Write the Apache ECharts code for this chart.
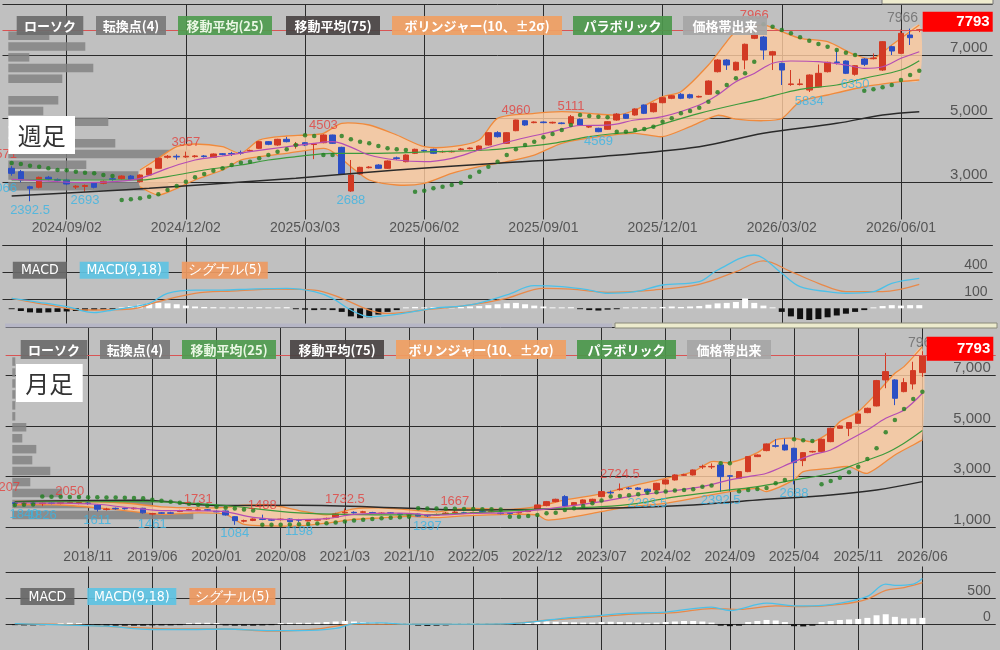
<!DOCTYPE html>
<html>
<head>
<meta charset="utf-8">
<script src="https://cdn.jsdelivr.net/npm/echarts@6/dist/echarts.min.js"></script>
<style>
html,body{margin:0;padding:0;background:#c0c0c0;}
#main{width:1000px;height:650px;}
</style>
</head>
<body>
<div id="main"></div>
<script>
// ---- 週足 (weekly, 2024/07/22 .. 2026/06/15) ----
var wkTickIdx = [6, 19, 32, 45, 58, 71, 84, 97];
var wkTickLabel = ['2024/09/02','2024/12/02','2025/03/03','2025/06/02','2025/09/01','2025/12/01','2026/03/02','2026/06/01'];

var wkOpen = [3431,3324,2850,2833,3150,3080,3063,2840,2860,2978, 2959,3100,3103,3188,3010,3220,3431,3780,3810,3790,
  3800,3820,3778,3890,3900,3930,3975,4061,4270,4165, 4345,4150,4237,4180,4237,4480,4092,2716,3251,3450,
  3535,3431,3760,3640,3904,3995,4030,3950,3950,4020, 4050,4007,4165,4553,4218,4616,4930,4870,4890,4860,
  4860,4848,4975,4730,4691,4660,4952,5132,5110,5425, 5214,5498,5636,5762,5750,5676,5762,6474,6842,6527,
  6842,7526,7567,7000,6738,6070,6070,5897,6000,6474, 6780,6811,6392,6874,6885,6527,7262,7053,7630,7780];
var wkClose = [3273,3063,2800,3147,3090,3050,2937,2870,2890,2833, 3022,3080,3188,3085,3220,3431,3746,3810,3790,3810,
  3820,3800,3882,3870,3880,3910,3995,4270,4187,4345, 4270,4175,4165,4200,4480,4218,3251,3220,3462,3470,
  3431,3661,3740,3850,4030,3980,3904,3960,3965,4040, 4070,4133,4553,4427,4553,4952,4795,4890,4870,4880,
  4840,5057,4795,4750,4584,4900,5140,5006,5300,5163, 5478,5655,5718,5636,5650,5696,6181,6842,6685,6770,
  7337,7630,7158,7104,6527,6090,6090,6370,6423,6770, 6760,6423,6663,6707,6905,7420,7126,7683,7545,7793];
var wkLow = [3200,2990,2392.5,2800,3050,3000,2900,2780,2693,2800, 2930,3040,3080,3060,2980,3200,3420,3740,3700,3760,
  3770,3770,3760,3840,3820,3860,3950,4040,4160,4140, 4250,4050,4130,3720,4220,4200,3230,2688,3230,3430,
  3410,3410,3700,3620,3880,3950,3880,3920,3930,4000, 4030,3990,4150,4400,4200,4600,4770,4850,4850,4840,
  4820,4830,4780,4700,4569,4640,4930,4990,5090,5140, 5190,5480,5610,5610,5630,5660,5740,6450,6530,6500,
  6550,7500,6850,6527,6055,6030,6040,5834,5980,6450, 6700,6400,6350,6650,6860,6500,7000,7030,7315,7720];
var wkHigh = [3500,3380,2880,3170,3190,3110,3100,2900,2920,3000, 3050,3130,3210,3220,3240,3450,3770,3850,3870,3957,
  3850,3850,3900,3910,3950,3990,4020,4290,4290,4360, 4420,4260,4260,4230,4503,4490,4110,3693,3480,3500,
  3560,3680,3800,3870,4050,4020,4050,3990,3990,4070, 4090,4150,4570,4600,4570,4960,4950,4910,4910,4900,
  4880,5111,5000,4780,4710,4920,5170,5150,5320,5440, 5500,5680,5740,5800,5780,5720,6200,6870,6870,6790,
  7360,7966,7600,7130,6760,6527,6250,6390,6700,6790, 7158,6830,6680,6900,7050,7440,7290,7800,7830,7820];

var wkMid = [[0,3085],[4,3030],[8,2978],[11,3010],[14,3116],[17,3431],[20,3692],[23,3818],[26,3954],[30,4111],[33,4218],[35,4269],[37,4100],[39,3850],[42,3692],[45,3640],[48,3746],[51,4008],[55,4323],[59,4584],[62,4780],[65,4790],[68,4952],[71,5057],[75,5425],[77,5740],[79,6159],[81,6420],[83,6739],[85,6811],[88,6789],[91,6685],[93,6581],[95,6631],[97,6896],[99,7104]];
var wkUpper = [[14,3377],[16,3746],[18,4112],[20,4197],[23,4112],[25,3904],[27,4322],[30,4449],[32,4480],[34,4534],[36,4849],[39,4795],[42,4480],[45,4112],[48,4112],[51,4322],[53,5006],[57,5163],[60,5214],[63,5163],[66,5110],[68,5268],[71,5686],[73,5844],[76,6685],[78,7420],[79,7735],[82,7945],[84,7735],[86,7526],[89,7420],[92,7000],[94,6895],[96,7315],[99,7945]];
var wkLower = [[14,2852],[16,2590],[18,2800],[20,3063],[23,3378],[25,3693],[27,3797],[30,3904],[34,4061],[35,3954],[37,3482],[39,3063],[42,2905],[45,2960],[48,3274],[51,3482],[54,3640],[57,3850],[60,4218],[64,4427],[68,4533],[71,4427],[74,4742],[77,5100],[79,4980],[82,4930],[84,5000],[86,5530],[89,5740],[93,6000],[97,6160],[99,6212]];
var wkMa25 = [[0,3070],[6,3063],[14,3063],[18,3220],[21,3378],[25,3535],[28,3693],[31,3797],[35,3904],[39,3904],[46,3954],[52,4008],[55,4092],[59,4218],[63,4427],[66,4533],[68,4585],[75,5163],[82,5636],[86,5920],[90,6055],[93,6266],[97,6527],[99,6820]];
var wkMa75 = [[0,2560],[10,2720],[15,2800],[20,2900],[31,3120],[42,3378],[53,3589],[64,3797],[75,4112],[82,4533],[90,4848],[95,5110],[99,5214]];
var wkSar = [3600,3567,3514,3482,3431,3378,3370,3325,3293,3274, 3220,3189,2432,2455,2486,2537,2612,2748,2874,3009,
  3147,3252,3356,3431,3535,3608,3640,3746,3850,3954, 4030,4165,4470,4449,3850,3850,4449,4345,4270,4218,
  4133,4061,4030,4008,2695,2726,2800,2852,2905,2978, 3168,3325,3482,3640,3850,4030,4165,4270,4408,4512,
  4637,4795,5110,5078,5057,5040,4585,4585,4637,4670, 4742,4900,5006,5163,5236,5340,5530,5825,6055,6266,
  6423,6789,7966,7892,7788,7683,7557,7451,7347,7262, 7158,7073,7000,5876,5920,5983,6055,6212,6370,6505];
var wkPeakIdx = [-1, 19, 34, 55, 61, 81];
var wkPeakVal = ['3571','3957','4503','4960','5111','7966'];
var wkTroughIdx = [-1, 2, 8, 37, 64, 87, 92];
var wkTroughVal = ['3066','2392.5','2693','2688','4569','5834','6350'];
var wkProfile = [41,77,21,85,54,0,50,35,100,60,107,182,78,130,160];

var wkMacd = [[0,111],[3,67],[6,18],[9,-49],[11,-19],[15,56],[17,167],[20,203],[23,203],[26,214],[30,222],[33,185],[35,111],[37,-19],[39,-93],[42,-67],[46,0],[50,37],[54,148],[57,251],[60,240],[63,203],[65,167],[68,185],[71,259],[75,296],[77,426],[81,592],[82,556],[84,389],[86,240],[89,185],[91,167],[94,185],[96,278],[99,333]];
var wkSignal = [[0,111],[4,37],[8,-19],[13,-8],[16,74],[20,167],[24,192],[29,214],[33,203],[36,111],[39,-19],[41,-56],[45,-19],[50,37],[54,111],[58,222],[61,214],[65,178],[70,203],[75,266],[79,407],[82,526],[85,407],[88,278],[91,185],[95,185],[99,266]];
var wkHist = [-10,-30,-45,-50,-45,-40,-35,-30,-25,-20, -15,-10,10,25,40,55,60,55,45,30,
  20,15,12,10,10,12,10,12,10,10, 12,-10,-15,-20,-15,-20,-40,-90,-110,-100,
  -70,-40,-20,10,15,10,12,15,10,15, 20,25,35,45,55,60,45,30,20,10,
  10,12,-10,-20,-25,-15,-10,10,10,12, 10,15,20,15,20,25,40,55,60,70,
  110,60,30,10,-40,-90,-120,-130,-120,-100, -80,-60,-40,-20,10,25,35,30,35,35];

// ---- 月足 (monthly, 2018/03 .. 2026/06) ----
var moTickIdx = [8,15,22,29,36,43,50,57,64,71,78,85,92,99];
var moTickLabel = ['2018/11','2019/06','2020/01','2020/08','2021/03','2021/10','2022/05','2022/12','2023/07','2024/02','2024/09','2025/04','2025/11','2026/06'];

var moOpen = [1960,1925,1955,1925,1950,1935,1960,1950,1950,1872, 1690,1740,1740,1720,1741,1510,1560,1560,1610,1670,
  1660,1680,1620,1634,1408,1230,1260,1320,1290,1290, 1317,1290,1240,1270,1320,1384,1560,1580,1580,1570,
  1530,1560,1520,1470,1510,1460,1470,1530,1570,1560, 1550,1620,1600,1550,1550,1560,1608,1700,1846,2004,
  2203,1872,1938,2004,2203,2370,2480,2540,2545,2494, 2467,2705,2864,3050,3062,3380,3380,3458,3030,2930,
  3194,3789,4027,4220,4251,4119,3630,3975,3987,4383, 4912,4912,5110,5533,5798,6829,6829,6366,6670,7120];
var moClose = [1930,1950,1930,1950,1935,1960,1980,1965,1930,1702, 1710,1720,1720,1745,1560,1530,1545,1545,1650,1690,
  1680,1660,1600,1476,1250,1250,1317,1300,1270,1310, 1210,1270,1280,1290,1340,1515,1580,1560,1600,1550,
  1550,1540,1500,1490,1430,1440,1490,1550,1590,1540, 1570,1600,1620,1530,1530,1580,1674,1872,2004,2097,
  1833,1965,2071,2097,2401,2350,2500,2520,2494,2401, 2731,2864,3062,3070,3260,3400,3400,2996,3010,3194,
  3789,3854,4291,4200,4053,3551,3947,3995,4476,4912, 5005,5137,5480,5705,6802,7159,6102,6723,7199,7793];
var moLow = [1850,1840,1880,1826,1900,1900,1930,1900,1880,1611, 1650,1680,1690,1690,1530,1461,1520,1520,1590,1640,
  1630,1630,1580,1450,1084,1180,1230,1270,1240,1260, 1205,1198,1220,1250,1290,1370,1520,1530,1550,1520,
  1500,1510,1470,1440,1410,1397,1440,1500,1540,1510, 1520,1570,1580,1500,1500,1530,1590,1680,1820,1980,
  1800,1850,1910,1980,2180,2290,2440,2480,2460,2293.5, 2440,2680,2840,3020,3040,3300,3300,2392.5,2420,2900,
  3170,3770,4000,4150,4030,2688,3410,3950,3970,4360, 4890,4600,5090,5510,5780,6500,5830,6340,6450,6950];
var moHigh = [2000,1990,1990,1980,1990,2000,2050,2000,1990,1900, 1760,1770,1770,1780,1760,1560,1590,1600,1680,1720,
  1731,1710,1650,1660,1430,1290,1340,1488,1320,1340, 1340,1320,1300,1320,1370,1560,1732.5,1620,1640,1600,
  1580,1590,1550,1520,1530,1490,1530,1590,1667,1600, 1600,1650,1650,1580,1580,1610,1700,1890,2030,2120,
  2260,1990,2090,2120,2420,2440,2724.5,2580,2580,2520, 2750,2890,3090,3110,3280,3470,3520,3500,3060,3210,
  3810,3880,4310,4480,4500,4140,3970,4020,4500,4940, 5030,5160,5500,5730,6830,7900,6860,6900,7550,7966];

var moMid = [[0,1950],[5,1945],[9,1900],[12,1780],[16,1650],[20,1640],[23,1600],[26,1380],[30,1290],[34,1330],[37,1500],[42,1550],[46,1470],[50,1540],[54,1570],[57,1674],[60,1806],[64,2004],[67,2203],[71,2401],[75,2599],[78,2864],[80,2996],[82,3128],[85,3590],[87,3855],[89,4053],[91,4450],[93,4846],[95,5309],[97,5639],[99,6300]];
var moUpper = [[0,2010],[5,2020],[9,2000],[12,1950],[16,1800],[20,1760],[23,1780],[25,1860],[28,1870],[31,1650],[34,1480],[37,1720],[40,1760],[43,1680],[46,1600],[49,1740],[54,1700],[57,1806],[60,2071],[64,2308],[67,2599],[71,2930],[74,3194],[76,3590],[78,3551],[81,3947],[83,4450],[85,4516],[87,4383],[89,4780],[90,5176],[92,5573],[94,6300],[96,7093],[97,7357],[99,8150]];
var moLower = [[0,1880],[5,1870],[9,1760],[12,1650],[16,1500],[20,1560],[23,1500],[25,1100],[28,1040],[31,1040],[34,1150],[37,1300],[40,1360],[43,1420],[46,1370],[49,1440],[54,1500],[57,1476],[58,1278],[60,1344],[64,1608],[67,1806],[71,1938],[75,2203],[78,2401],[81,2533],[82,2400],[85,2864],[86,3194],[89,3326],[91,3392],[93,3128],[96,3855],[98,4251],[99,4450]];
var moMa25 = [[0,1990],[8,2000],[14,2003],[22,1880],[31,1560],[43,1480],[49,1540],[57,1700],[64,1806],[68,1938],[71,2136],[75,2335],[78,2467],[81,2599],[85,2864],[89,3128],[92,3525],[95,3921],[97,4318],[99,4820]];
var moMa75 = [[0,2003],[14,2060],[22,1850],[31,1860],[43,1741],[49,1674],[64,1740],[74,1872],[81,2071],[89,2269],[94,2467],[99,2797]];
var moSar = [1870,1880,1890,2207,2200,2195,2190,2185,2180,2175, 2170,2165,2160,2150,2140,2080,2040,2000,1960,1920,
  1880,1840,1800,1760,1730,1690,1650,1084,1085,1090, 1100,1110,1120,1135,1150,1180,1220,1260,1290,1320,
  1345,1365,1385,1400,1740,1735,1730,1725,1720,1715, 1710,1705,1700,1695,1408,1408,1434,1474,1540,1567,
  1674,1740,1832,1938,2050,2203,2230,2260,2296,2361, 2380,2401,2441,2467,2494,2599,2640,3525,3525,2420,
  2467,2500,2546,2731,2864,4477,4440,4410,2693,2824, 2955,3168,3391,3696,4120,4755,5243,5679,6075,6365];
var moPeakIdx = [-1, 6, 20, 27, 36, 48, 66];
var moPeakVal = ['2207','2050','1731','1488','1732.5','1667','2724.5'];
var moTroughIdx = [1, 3, 9, 15, 24, 31, 45, 69, 77, 85];
var moTroughVal = ['1840','1826','1611','1461','1084','1198','1397','2293.5','2392.5','2688'];
var moProfile = [3,3,3,3,3,3,14,10,24,20,38,18,50,140,181];

var moMacd = [[0,11],[5,-16],[10,-41],[15,-104],[19,-104],[23,-95],[28,-126],[31,-126],[35,-84],[37,11],[40,22],[43,0],[47,0],[54,11],[57,54],[60,117],[64,169],[67,211],[71,232],[76,327],[78,263],[82,405],[85,353],[87,353],[90,405],[93,536],[95,773],[96,747],[98,773],[99,879]];
var moSignal = [[0,11],[5,-5],[11,-52],[18,-95],[23,-95],[28,-136],[33,-95],[37,0],[43,0],[54,11],[58,74],[64,148],[68,200],[72,221],[76,300],[79,284],[83,353],[86,337],[90,379],[93,484],[95,652],[97,705],[99,800]];
var moHist = [-20,-25,-25,-20,-15,20,25,20,-10,-25, -30,-30,-30,-30,-30,-25,-25,-25,-20,20,
  25,25,20,-25,-30,-30,-30,-25,-20,20, 25,25,25,30,40,50,60,50,40,30,
  25,25,20,15,-30,-35,-30,-25,20,20, 20,20,20,20,20,20,25,40,50,45,
  40,35,30,30,40,45,40,35,30,25, 30,40,50,60,60,50,30,-30,-40,-30,
  40,60,80,70,40,-40,-45,-30,40,60, 80,90,100,120,170,190,140,110,110,120];

var lastPrice = 7793;
var rangeHigh = '7966';

// ---- styling ----
var GRID = '#2b2b2b', RED = '#d23a24', BLUE = '#2c4fc4';
var NCAT = 109;
var cats = [];
for (var c = 0; c < NCAT; c++) cats.push(String(c));

function xAxisCfg(gi, tickIdx, labels, showLabels, margin) {
  var tickK = tickIdx.map(function (i) { return i + 1; });
  var isTick = function (idx) { return tickK.indexOf(idx) >= 0; };
  return {
    type: 'category', gridIndex: gi, data: cats, boundaryGap: false,
    axisLine: {show: false}, axisTick: {show: false},
    axisLabel: {
      show: showLabels, inside: true, margin: margin, interval: isTick,
      formatter: function (v, idx) { var p = tickK.indexOf(idx); return p >= 0 ? labels[p] : ''; },
      color: '#555', fontSize: 14, fontFamily: 'Liberation Sans, Arial, sans-serif',
      backgroundColor: '#c0c0c0', padding: [2, 3]
    },
    splitLine: {show: true, interval: isTick, lineStyle: {color: GRID, width: 1}}
  };
}

function yAxisCfg(gi, min, max, interval, shown, showMin, fs) {
  return {
    type: 'value', gridIndex: gi, position: 'right', min: min, max: max, interval: interval,
    axisLine: {show: false}, axisTick: {show: false},
    axisLabel: {
      inside: true, margin: 5, verticalAlign: 'bottom', color: '#555', fontSize: fs,
      fontFamily: 'Liberation Sans, Arial, sans-serif',
      formatter: function (v) { return shown.indexOf(v) >= 0 ? v.toLocaleString('en-US') : ''; }
    },
    splitLine: {show: true, showMinLine: showMin, lineStyle: {color: GRID, width: 1}}
  };
}

function pairs(list) { return list.map(function (p) { return [p[0] + 1, p[1]]; }); }
function perBar(arr) { return arr.map(function (v, i) { return [i + 1, v]; }); }
function ohlc(o, cl, l, h) { return o.map(function (v, i) { return [i + 1, v, cl[i], l[i], h[i]]; }); }

function candleSeries(xi, yi, o, cl, l, h) {
  return {
    type: 'candlestick', xAxisIndex: xi, yAxisIndex: yi, z: 4, barWidth: 6,
    encode: {x: 0, y: [1, 2, 3, 4]}, data: ohlc(o, cl, l, h),
    itemStyle: {color: RED, color0: BLUE, borderColor: RED, borderColor0: BLUE, borderWidth: 1},
    markLine: {symbol: 'none', silent: true, label: {show: false},
      lineStyle: {color: '#d85454', width: 1, type: 'solid'}, data: [{yAxis: lastPrice}]}
  };
}

function lineSeries(xi, yi, list, color, width, z) {
  return {type: 'line', xAxisIndex: xi, yAxisIndex: yi, data: pairs(list), showSymbol: false,
    smooth: 0.35, z: z || 5, lineStyle: {color: color, width: width}, silent: true};
}

function bandSeries(xi, yi, up, lo) {
  return {
    type: 'custom', xAxisIndex: xi, yAxisIndex: yi, z: 2, silent: true, data: [[1, 5000]],
    renderItem: function (params, api) {
      var top = up.map(function (p) { return api.coord([p[0] + 1, p[1]]); });
      var bot = lo.map(function (p) { return api.coord([p[0] + 1, p[1]]); }).reverse();
      return {type: 'group', children: [
        {type: 'polygon', shape: {points: top.concat(bot), smooth: 0.25}, style: {fill: 'rgba(252,202,160,0.82)'}},
        {type: 'polyline', shape: {points: top, smooth: 0.25}, style: {stroke: '#f08a3c', lineWidth: 1.3, fill: null}},
        {type: 'polyline', shape: {points: bot, smooth: 0.25}, style: {stroke: '#f08a3c', lineWidth: 1.3, fill: null}}
      ]};
    }
  };
}

function sarSeries(xi, yi, arr) {
  return {type: 'scatter', xAxisIndex: xi, yAxisIndex: yi, z: 6, symbolSize: 4.5, silent: true,
    data: perBar(arr), itemStyle: {color: '#1e7d1e'}};
}

function pointLabels(xi, yi, idx, vals, color, pos) {
  return {type: 'scatter', xAxisIndex: xi, yAxisIndex: yi, z: 7, symbolSize: 1, silent: true,
    itemStyle: {color: 'rgba(0,0,0,0)'},
    label: {show: true, position: pos, distance: 2, formatter: '{b}', color: color, fontSize: 13,
      fontFamily: 'Liberation Sans, Arial, sans-serif'},
    data: idx.map(function (i, n) { return {name: vals[n], value: [i + 1, parseFloat(vals[n])]}; })};
}

function histSeries(xi, yi, arr) {
  return {type: 'bar', xAxisIndex: xi, yAxisIndex: yi, z: 3, barWidth: 6, silent: true,
    data: perBar(arr),
    itemStyle: {color: function (p) { return p.value[1] >= 0 ? '#ffffff' : '#111111'; }}};
}

function profileSeries(xi, yi, arr) {
  return {type: 'bar', xAxisIndex: xi, yAxisIndex: yi, z: 1, barWidth: 8.5, silent: true,
    data: arr, itemStyle: {color: 'rgba(130,130,130,0.85)'}};
}

function tag(x, y, w, h, text, bg, fg, font) {
  return {type: 'group', x: x, y: y, z: 100, children: [
    {type: 'rect', z: 100, shape: {x: 0, y: 0, width: w, height: h}, style: {fill: bg, opacity: 0.92}},
    {type: 'text', z: 101, x: w / 2, y: h / 2 + 0.5, style: {text: text, fill: fg, font: font,
      align: 'center', verticalAlign: 'middle'}}
  ]};
}

var JP = 'bold 13px "Noto Sans CJK JP", sans-serif';
var NAR = '14px "DejaVu Sans Condensed", "Liberation Sans Narrow", "Liberation Sans", sans-serif';

function legendRow(dx, dy) {
  var defs = [
    [16.7, 66.6, 'ローソク', '#6c6c6c', '#ffffff'],
    [96, 70, '転換点(4)', '#7a7a7a', '#ffffff'],
    [178, 94, '移動平均(25)', '#4f9b4f', '#eaf7e4'],
    [286, 94, '移動平均(75)', '#4a4444', '#ffffff'],
    [392, 170, 'ボリンジャー(10、±2σ)', '#f0a063', '#ffffff'],
    [573, 99, 'パラボリック', '#4c984c', '#ffffff'],
    [683, 84, '価格帯出来', '#a6a6a6', '#ffffff']
  ];
  return defs.map(function (d) { return tag(d[0] + dx, 16 + dy, d[1], 19, d[2], d[3], d[4], JP); });
}
function macdLegend(dx, y) {
  return [
    tag(12.8 + dx, y, 54, 17, 'MACD', '#686868', '#ffffff', NAR),
    tag(79.7 + dx, y, 89, 17, 'MACD(9,18)', '#5ec3e3', '#ffffff', NAR),
    tag(181.8 + dx, y, 86, 17, 'シグナル(5)', '#ee9a62', '#ffffff', NAR)
  ];
}
function priceBox(x, y, w, h) {
  return {type: 'group', x: x, y: y, z: 110, children: [
    {type: 'rect', z: 110, shape: {x: 0, y: 0, width: w, height: h}, style: {fill: '#ff0000'}},
    {type: 'text', z: 111, x: w - 3, y: h / 2 + 0.5, style: {text: String(lastPrice), fill: '#ffffff',
      font: 'bold 15px "Liberation Sans", sans-serif', align: 'right', verticalAlign: 'middle'}}
  ]};
}
function frameLabel(x, y, w, h, text) {
  return {type: 'group', x: x, y: y, z: 120, children: [
    {type: 'rect', z: 120, shape: {x: 0, y: 0, width: w, height: h}, style: {fill: '#ffffff', opacity: 1}},
    {type: 'text', z: 121, x: w / 2, y: h / 2 + 1, style: {text: text, fill: '#333333',
      font: '24px "Noto Sans CJK JP", sans-serif', align: 'center', verticalAlign: 'middle'}}
  ]};
}

var graphics = []
  .concat(legendRow(0, 0))
  .concat(legendRow(4, 324))
  .concat(macdLegend(0, 261.7))
  .concat(macdLegend(7.6, 588))
  .concat([
    frameLabel(8.3, 116, 66.7, 38, '週足'),
    frameLabel(16, 364, 66.7, 38, '月足'),
    {type: 'text', x: 887, y: 18, z: 105, style: {text: rangeHigh, fill: '#7a7a7a',
      font: '14px "Liberation Sans", sans-serif', verticalAlign: 'middle'}},
    {type: 'text', x: 908, y: 343, z: 105, style: {text: rangeHigh, fill: '#7a7a7a',
      font: '14px "Liberation Sans", sans-serif', verticalAlign: 'middle'}},
    priceBox(922.7, 11.7, 70, 20),
    priceBox(926.7, 336.7, 66.6, 24),
    {type: 'rect', z: 90, shape: {x: 882, y: -1, width: 111, height: 5}, style: {fill: '#efecce', stroke: '#777777'}},
    {type: 'rect', z: 90, shape: {x: 5, y: 323.5, width: 607, height: 4}, style: {fill: '#b6b6c6'}},
    {type: 'rect', z: 90, shape: {x: 615, y: 323, width: 382, height: 5}, style: {fill: '#ecebcd', stroke: '#8a8a7a'}}
  ]);

var chart = echarts.init(document.getElementById('main'), null, {renderer: 'canvas'});
chart.setOption({
  animation: false,
  backgroundColor: '#c0c0c0',
  grid: [
    {left: 2.51, width: 990.1, top: 4.2, height: 241.3},
    {left: 2.51, width: 990.1, top: 245.3, height: 81},
    {left: 5.63, width: 990.1, top: 327.7, height: 249.7},
    {left: 5.63, width: 990.1, top: 572.3, height: 95.1},
    {left: 8.3, width: 200, top: 30.5, height: 161},
    {left: 12.3, width: 200, top: 356.1, height: 164.25}
  ],
  xAxis: [
    xAxisCfg(0, wkTickIdx, wkTickLabel, true, 8),
    xAxisCfg(1, wkTickIdx, wkTickLabel, false, 8),
    xAxisCfg(2, moTickIdx, moTickLabel, true, 11),
    xAxisCfg(3, moTickIdx, moTickLabel, false, 8),
    {type: 'value', gridIndex: 4, min: 0, max: 200, show: false},
    {type: 'value', gridIndex: 5, min: 0, max: 200, show: false}
  ],
  yAxis: [
    yAxisCfg(0, 1000, 8600, 2000, [3000, 5000, 7000], true, 15),
    yAxisCfg(1, -200, 700, 300, [100, 400], false, 14),
    yAxisCfg(2, -1000, 8900, 2000, [1000, 3000, 5000, 7000], false, 15),
    yAxisCfg(3, -500, 1000, 500, [0, 500], false, 14),
    {type: 'category', gridIndex: 4, inverse: true, show: false, data: wkProfile.map(function (v, i) { return 'w' + i; })},
    {type: 'category', gridIndex: 5, inverse: true, show: false, data: moProfile.map(function (v, i) { return 'm' + i; })}
  ],
  series: [
    profileSeries(4, 4, wkProfile),
    profileSeries(5, 5, moProfile),
    bandSeries(0, 0, wkUpper, wkLower),
    bandSeries(2, 2, moUpper, moLower),
    candleSeries(0, 0, wkOpen, wkClose, wkLow, wkHigh),
    candleSeries(2, 2, moOpen, moClose, moLow, moHigh),
    lineSeries(0, 0, wkMa75, '#2a2a2a', 1.5),
    lineSeries(0, 0, wkMa25, '#3c9a3c', 1.2),
    lineSeries(0, 0, wkMid, '#b44db4', 1.2),
    lineSeries(2, 2, moMa75, '#2a2a2a', 1.5),
    lineSeries(2, 2, moMa25, '#3c9a3c', 1.2),
    lineSeries(2, 2, moMid, '#b44db4', 1.2),
    sarSeries(0, 0, wkSar),
    sarSeries(2, 2, moSar),
    pointLabels(0, 0, wkPeakIdx, wkPeakVal, '#e2403c', 'top'),
    pointLabels(0, 0, wkTroughIdx, wkTroughVal, '#3ab4e4', 'bottom'),
    pointLabels(2, 2, moPeakIdx, moPeakVal, '#e2403c', 'top'),
    pointLabels(2, 2, moTroughIdx, moTroughVal, '#3ab4e4', 'bottom'),
    histSeries(1, 1, wkHist),
    lineSeries(1, 1, wkSignal, '#e8894a', 1.3),
    lineSeries(1, 1, wkMacd, '#4cc0e8', 1.3),
    histSeries(3, 3, moHist),
    lineSeries(3, 3, moSignal, '#e8894a', 1.3),
    lineSeries(3, 3, moMacd, '#4cc0e8', 1.3)
  ],
  graphic: graphics
});
</script>
</body>
</html>
